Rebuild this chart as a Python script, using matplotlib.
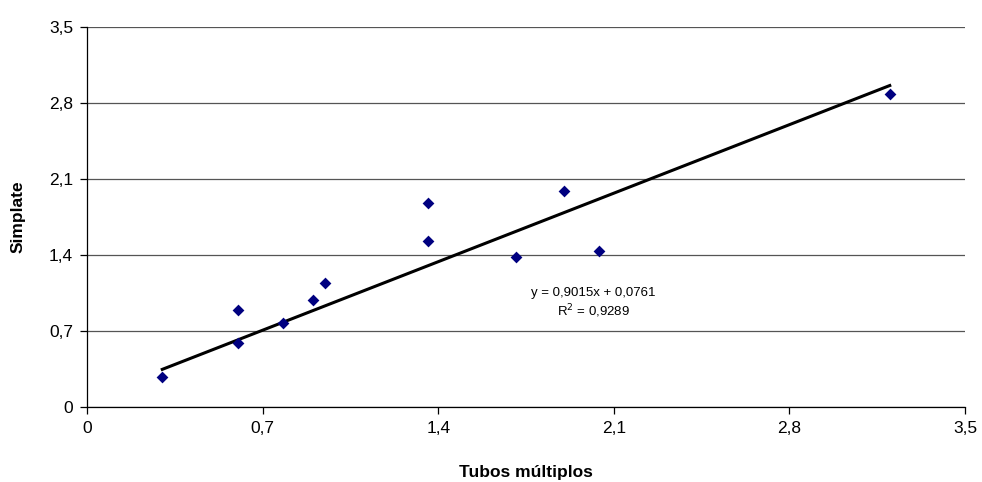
import matplotlib.pyplot as plt
import numpy as np

# data
tubos = [0.30, 0.60, 0.60, 0.78, 0.90, 0.95, 1.36, 1.36, 1.71, 1.90, 2.04, 3.20]
simplate = [0.28, 0.89, 0.59, 0.77, 0.99, 1.14, 1.88, 1.53, 1.38, 1.99, 1.44, 2.88]
slope, intercept = 0.9015, 0.0761
r2 = 0.9289
ticks = [0, 0.7, 1.4, 2.1, 2.8, 3.5]
tick_labels = ["0", "0,7", "1,4", "2,1", "2,8", "3,5"]

plt.rcParams['font.family'] = ['Liberation Sans', 'DejaVu Sans']

fig = plt.figure(figsize=(9.82, 4.82), dpi=100)
ax = fig.add_axes([0.0886, 0.1556, 0.8941, 0.7884])

ax.set_xlim(0, 3.5)
ax.set_ylim(0, 3.5)
ax.set_xticks(ticks)
ax.set_xticklabels(tick_labels, fontsize=12.5)
ax.set_yticks(ticks)
ax.set_yticklabels(tick_labels, fontsize=12.5)
ax.yaxis.grid(True, color="#555555", linewidth=0.9)
ax.set_axisbelow(True)
for s in ("top", "right"):
    ax.spines[s].set_visible(False)
for s in ("left", "bottom"):
    ax.spines[s].set_linewidth(0.9)
ax.tick_params(direction="out", length=5, width=0.9, pad=5)

# trendline over the data range
xl = np.array([min(tubos), max(tubos)])
ax.plot(xl, slope * xl + intercept, color="black", linewidth=2.2, zorder=2)
ax.scatter(tubos, simplate, marker="D", s=36, color="#000080", zorder=3,
           linewidths=0)

ax.text(2.02, 1.05, f"y = {slope:.4f}x + {intercept:.4f}".replace(".", ","),
        fontsize=9.5, ha="center", va="center")
ax.text(2.02, 0.88, f"R$^2$ = {r2:.4f}".replace(".", ","),
        fontsize=9.5, ha="center", va="center")

ax.set_xlabel("Tubos múltiplos", fontsize=12.5, fontweight="bold", labelpad=21)
ax.set_ylabel("Simplate", fontsize=12.5, fontweight="bold", labelpad=17)

fig.savefig("out.png", dpi=100)
